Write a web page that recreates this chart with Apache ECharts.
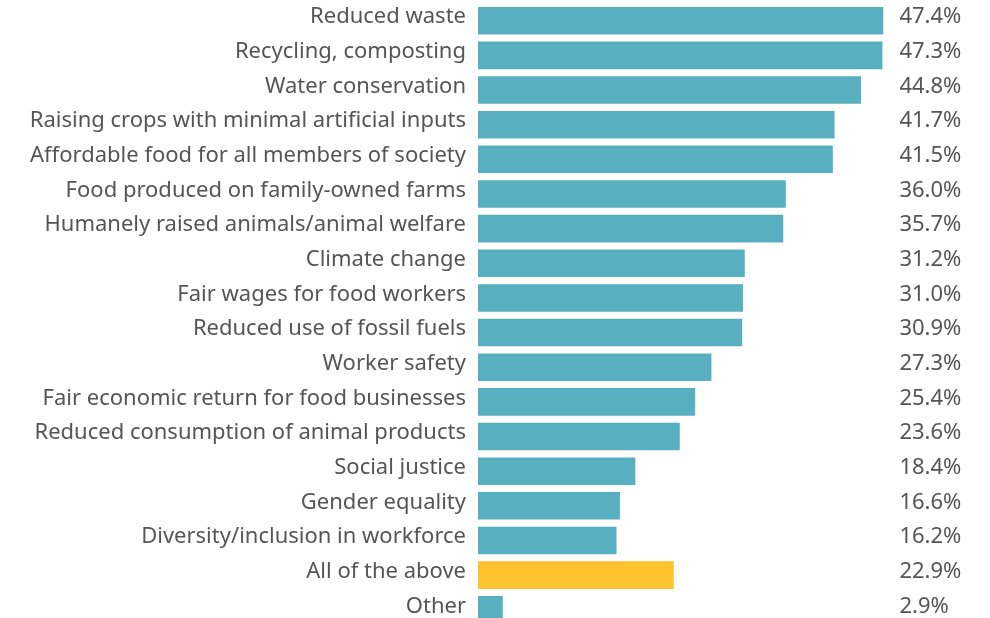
<!DOCTYPE html>
<html>
<head>
<meta charset="utf-8">
<script src="https://cdn.jsdelivr.net/npm/echarts@6/dist/echarts.min.js"></script>
<style>
html,body{margin:0;padding:0;background:#fff;}
#chart{width:990px;height:618px;}
</style>
</head>
<body>
<div id="chart"></div>
<script>
const categories = [
  "Reduced waste",
  "Recycling, composting",
  "Water conservation",
  "Raising crops with minimal artificial inputs",
  "Affordable food for all members of society",
  "Food produced on family-owned farms",
  "Humanely raised animals/animal welfare",
  "Climate change",
  "Fair wages for food workers",
  "Reduced use of fossil fuels",
  "Worker safety",
  "Fair economic return for food businesses",
  "Reduced consumption of animal products",
  "Social justice",
  "Gender equality",
  "Diversity/inclusion in workforce",
  "All of the above",
  "Other"
];
const values = [47.4, 47.3, 44.8, 41.7, 41.5, 36.0, 35.7, 31.2, 31.0, 30.9, 27.3, 25.4, 23.6, 18.4, 16.6, 16.2, 22.9, 2.9];
const highlight = "All of the above";

const TEAL = "#58AFC0";
const YELLOW = "#FCC32E";
const TEXT = "#555555";
const FONT = "Noto Sans";

const chart = echarts.init(document.getElementById('chart'), null, {renderer: 'canvas'});
chart.setOption({
  animation: false,
  grid: {left: 478, top: 3.4, width: 410.4, height: 623.7, containLabel: false, outerBoundsMode: 'none'},
  xAxis: {
    type: 'value', min: 0, max: 48, show: false
  },
  yAxis: [
    {
      type: 'category', inverse: true, data: categories,
      axisLine: {show: false}, axisTick: {show: false}, splitLine: {show: false},
      axisLabel: {color: TEXT, fontSize: 22, fontFamily: FONT, margin: 12, interval: 0,
        lineHeight: 7, verticalAlign: 'bottom', hideOverlap: false}
    },
    {
      type: 'category', inverse: true, position: 'right',
      data: values.map(v => v.toFixed(1) + '%'),
      axisLine: {show: false}, axisTick: {show: false}, splitLine: {show: false},
      axisLabel: {color: TEXT, fontSize: 22, fontFamily: FONT, margin: 11, align: 'left', interval: 0,
        lineHeight: 7, verticalAlign: 'bottom', hideOverlap: false}
    }
  ],
  series: [{
    type: 'bar',
    yAxisIndex: 0,
    barCategoryGap: '20.6%',
    data: values.map((v, i) => ({
      value: v,
      itemStyle: {color: categories[i] === highlight ? YELLOW : TEAL}
    })),
    silent: true
  }]
});
</script>
</body>
</html>
